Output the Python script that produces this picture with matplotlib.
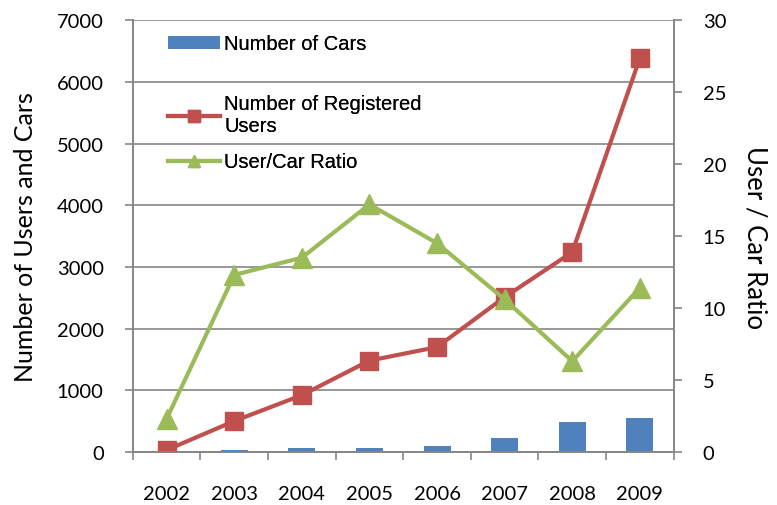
import matplotlib
matplotlib.use("Agg")
import matplotlib.pyplot as plt
import numpy as np
from matplotlib.lines import Line2D
from matplotlib.patches import Patch

years = ["2002", "2003", "2004", "2005", "2006", "2007", "2008", "2009"]
cars = [0, 30, 60, 60, 92, 217, 486, 546]
users = [30, 500, 920, 1480, 1700, 2510, 3240, 6385]
ratio = [2.3, 12.3, 13.5, 17.2, 14.5, 10.6, 6.3, 11.4]

BLUE = "#4F81BD"
RED = "#C0504D"
GREEN = "#9BBB59"
AXIS = "#868686"

tick_font = "Lato"
legend_font = "Liberation Sans"
W, H = 777, 506

fig = plt.figure(figsize=(W / 100, H / 100), dpi=100)
ax = fig.add_axes([0.171, 0.105, 0.696, 0.853])
x = np.arange(len(years))

ax.bar(x, cars, width=0.4, color=BLUE, zorder=2)
ax.plot(x, users, color=RED, lw=3, marker="s", ms=13, zorder=3)
ax.set_ylim(0, 7000)
ax.set_yticks(range(0, 7001, 1000))
ax.set_xlim(-0.5, len(years) - 0.5)
ax.grid(axis="y", color=AXIS, lw=1.2, zorder=0)
ax.set_axisbelow(True)

# boundary tick marks, labels at category centres
ax.set_xticks(np.arange(-0.5, len(years), 1.0))
ax.set_xticklabels([])
ax.set_xticks(x, minor=True)
ax.set_xticklabels(years, minor=True, fontsize=14.5, family=tick_font)
ax.tick_params(axis="x", which="major", direction="out", length=6, color=AXIS, width=1.2)
ax.tick_params(axis="x", which="minor", length=0, pad=24)
ax.tick_params(axis="y", direction="out", length=6, color=AXIS, width=1.2, pad=15)
for lbl in ax.get_yticklabels():
    lbl.set_family(tick_font)
    lbl.set_fontsize(14.5)
ax.set_ylabel("Number of Users and Cars", fontsize=18, family=tick_font, labelpad=14)

ax.spines["top"].set_visible(False)
for side in ["left", "bottom", "right"]:
    ax.spines[side].set_color(AXIS)
    ax.spines[side].set_linewidth(1.2)

ax2 = ax.twinx()
ax2.plot(x, ratio, color=GREEN, lw=3, marker="^", ms=14, zorder=3)
ax2.set_ylim(0, 30)
ax2.set_yticks(range(0, 31, 5))
ax2.tick_params(axis="y", direction="out", length=6, color=AXIS, width=1.2, pad=15)
for lbl in ax2.get_yticklabels():
    lbl.set_family(tick_font)
    lbl.set_fontsize(14.5)
ax2.set_ylabel("User / Car Ratio", fontsize=18.5, family=tick_font, rotation=-90, labelpad=30)
ax2.spines["top"].set_visible(False)
for side in ["left", "bottom", "right"]:
    ax2.spines[side].set_color(AXIS)
    ax2.spines[side].set_linewidth(1.2)

# legend entries placed individually (uneven spacing as in the original)
entries = [
    (Patch(facecolor=BLUE, edgecolor="none"), "Number of Cars", 45),
    (Line2D([], [], color=RED, lw=3, marker="s", ms=8), "Number of Registered\nUsers", 116),
    (Line2D([], [], color=GREEN, lw=3, marker="^", ms=8), "User/Car Ratio", 163),
]
for handle, label, ypix in entries:
    leg = fig.legend([handle], [label], loc="center left",
                     bbox_to_anchor=(168 / W, 1 - ypix / H),
                     frameon=False, prop={"family": legend_font, "size": 14.5},
                     handlelength=2.6, handleheight=0.6, handletextpad=0.2,
                     borderpad=0, borderaxespad=0)
    fig.add_artist(leg)

fig.savefig("out.png", dpi=100)
